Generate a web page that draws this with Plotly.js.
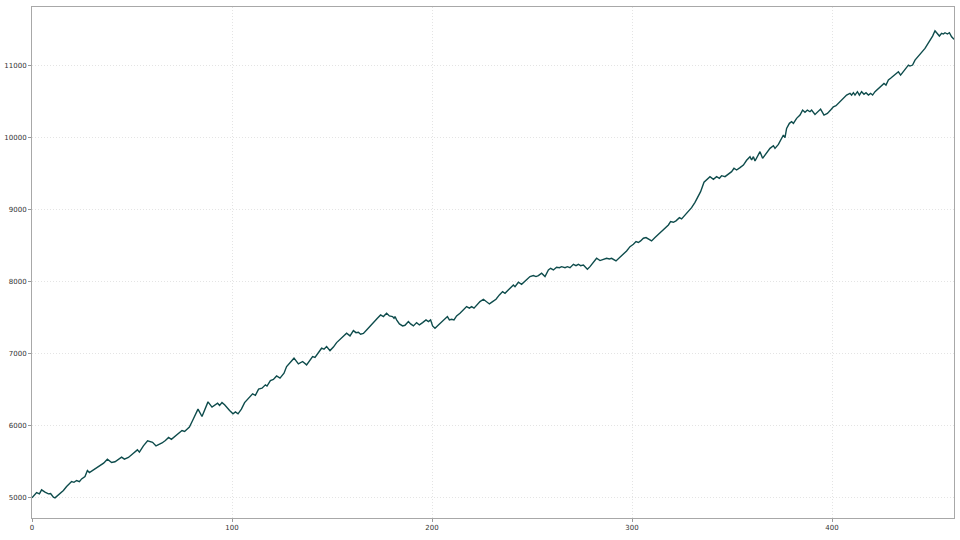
<!DOCTYPE html>
<html>
<head>
<meta charset="utf-8">
<script src="https://cdn.plot.ly/plotly-3.0.1.min.js"></script>
<style>html,body{margin:0;padding:0;background:#fff;}#chart{width:960px;height:540px;}</style>
</head>
<body>
<div id="chart"></div>
<script>
const xValues = [0,2.3,3.7,4.8,6.5,8.2,9.3,10.7,11.5,14,15.7,17.3,19.8,21,22.3,23.7,24.8,26.5,27.7,28.7,30.7,32.3,34,35.8,37.7,39.8,41.5,43.2,44.8,46.2,48.2,50.7,52.7,53.7,55.7,57.8,59,
60.3,62,65,66.7,68.3,69.7,71.7,73.3,75,76.3,78.7,80.3,81.7,83,85,86.7,88,90,91.7,92.8,93.8,95,96.3,97.5,98.8,100.5,101.7,103,104.7,106.3,108.3,110.3,111.7,113.3,115,116.7,117.5,119.2,
120.7,122.3,124,126,127.3,129,131,133.2,135.3,137.3,139,140.3,141.5,143.2,144.8,146,147.3,149,150.7,152.3,154,155.7,157.3,159,160.7,162,163.2,164.3,165.7,167.3,169,170.7,172.7,174.3,175.7,177.3,178.7,
180.3,181,181.5,182.3,183.7,185.3,186.5,188.2,189.3,190.7,192.3,193.7,195.3,197,198.2,199.3,200.3,201.5,203.2,204.8,206.5,207.7,208.7,209.8,211,212.3,214,215.3,217.3,218.7,219.8,221,222.3,224,225.7,227.3,228.7,230.3,232,233.7,235.3,236.5,237.7,238.7,
240.7,241.5,243.2,244.8,247,249,250.7,252,253.2,254.8,256.5,258.2,259.3,260.7,262.3,263.7,264.8,266.5,267.7,269,270.7,272,273.2,274.3,275.7,277.7,279,280.7,282.3,284,285.7,287.3,288.7,289.8,292,293.7,295.7,297.3,299,
300.7,302,303.2,304.3,305.7,307,308.2,309.8,311.5,313.2,314.8,316.5,318.2,319.3,320.7,322,323.7,324.8,326.5,328.2,329.8,331.5,333.2,334.3,336,337.3,339,340.7,342.3,343.7,344.8,346.5,348.2,349.8,351,352.3,354,355.7,357.3,
359,359.8,360.7,361.5,362.7,364,365.3,367,369,370.7,371.5,373.2,374.8,375.7,376.5,377.3,378.7,379.8,380.7,382.3,384,385.3,386.5,387.7,389,389.8,391.5,393.2,394.3,396,397.7,399.3,400.7,402,403.7,405.3,407.3,
409,409.8,410.7,411.5,412.7,413.7,414.8,416,417,418.2,419.3,420.3,421.5,423.2,424.8,426,427,428.2,429.3,430.7,432,433.2,434.3,435.7,437,438.2,439,440.3,441.5,443.2,444.8,446.5,448.2,449.3,450.3,451.5,452.7,453.7,454.8,455.7,456.5,457.7,458.7,459.8,461];

const yValues = [5000,5073,5055,5111,5079,5055,5060,5010,5000,5055,5101,5157,5226,5215,5240,5225,5262,5295,5378,5350,5388,5420,5457,5480,5536,5489,5500,5536,5563,5536,5560,5619,5665,5633,5720,5790,5775,
5770,5720,5760,5795,5836,5810,5859,5896,5933,5920,5980,6071,6164,6229,6127,6243,6330,6257,6285,6312,6280,6320,6290,6243,6210,6164,6190,6164,6229,6320,6381,6441,6420,6506,6520,6566,6550,6626,
6640,6690,6660,6728,6820,6875,6936,6857,6890,6843,6912,6958,6945,7014,7074,7060,7097,7041,7090,7152,7198,7245,7282,7245,7318,7290,7295,7268,7280,7327,7383,7429,7490,7536,7513,7559,7522,
7513,7490,7513,7467,7411,7383,7392,7443,7411,7383,7429,7397,7429,7467,7443,7467,7383,7351,7397,7443,7490,7513,7467,7476,7467,7522,7559,7596,7651,7629,7651,7629,7674,7720,7753,7720,7688,7720,7753,7813,7859,7836,7873,7892,
7951,7928,7989,7960,8021,8067,8081,8067,8081,8114,8067,8159,8182,8159,8196,8191,8205,8191,8205,8191,8238,8219,8238,8219,8228,8169,8205,8266,8321,8289,8303,8321,8312,8321,8284,8330,8377,8423,8482,
8515,8553,8540,8562,8599,8608,8590,8561,8608,8654,8700,8737,8783,8830,8820,8840,8884,8866,8922,8967,9023,9097,9175,9245,9375,9407,9453,9416,9453,9430,9466,9453,9485,9522,9569,9545,9578,9614,9680,
9730,9684,9730,9670,9730,9799,9707,9776,9845,9882,9845,9900,9993,10030,9993,10122,10192,10214,10192,10261,10307,10376,10344,10376,10353,10376,10316,10362,10390,10307,10330,10376,10422,10436,10482,10529,10584,
10608,10584,10617,10584,10631,10584,10631,10594,10617,10584,10608,10584,10631,10677,10723,10746,10723,10792,10816,10848,10875,10907,10861,10907,10954,11000,10986,11000,11069,11125,11162,11231,11309,11356,11402,11476,11439,11402,11439,11430,11448,11430,11448,11393,11356];

const xTicks = [0, 100, 200, 300, 400];
const yTicks = [5000, 6000, 7000, 8000, 9000, 10000, 11000];

const axisCommon = {
  showgrid: true,
  gridcolor: '#e4e4e4',
  griddash: '1px,2px',
  gridwidth: 1,
  zeroline: false,
  showline: true,
  mirror: true,
  linecolor: '#a8a8a8',
  linewidth: 1,
  ticks: 'outside',
  ticklen: 3,
  tickwidth: 1,
  tickcolor: '#999',
  tickfont: {family: 'DejaVu Sans, sans-serif', size: 7, color: '#333'}
};

const trace = {
  x: xValues,
  y: yValues,
  type: 'scatter',
  mode: 'lines',
  line: {color: '#0e4c4c', width: 1.4},
  hoverinfo: 'skip'
};

const layout = {
  width: 960,
  height: 540,
  margin: {l: 32, r: 6, t: 7, b: 22},
  paper_bgcolor: '#ffffff',
  plot_bgcolor: '#ffffff',
  showlegend: false,
  xaxis: Object.assign({}, axisCommon, {range: [0, 461], tickvals: xTicks, ticktext: xTicks.map(String)}),
  yaxis: Object.assign({}, axisCommon, {range: [4720, 11805], tickvals: yTicks, ticktext: yTicks.map(String)})
};

Plotly.newPlot('chart', [trace], layout, {displayModeBar: false, staticPlot: true});
</script>
</body>
</html>
